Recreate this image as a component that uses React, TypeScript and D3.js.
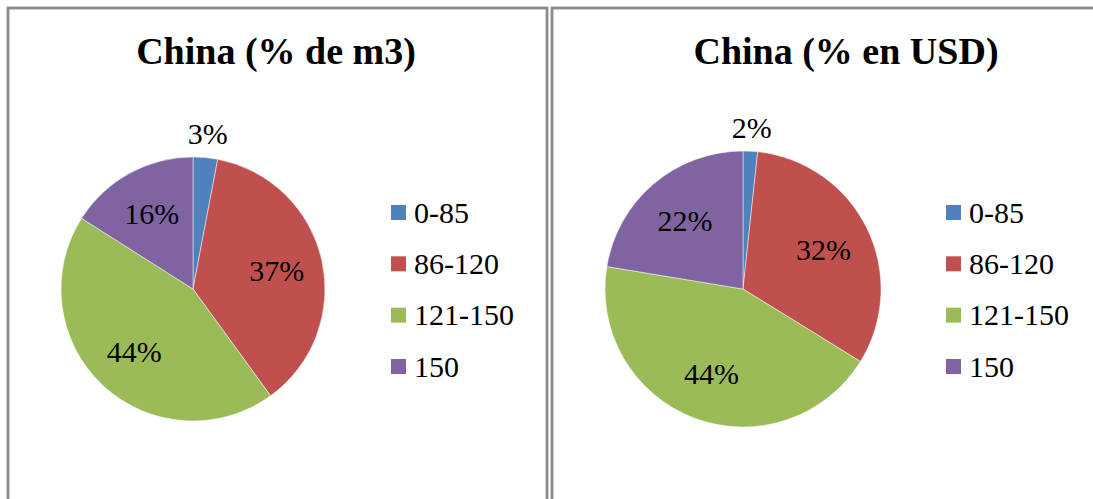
import React from "react";
import * as d3 from "d3";

const categories = ["0-85", "86-120", "121-150", "150"];
const colors = ["#4F81BD", "#C0504D", "#9BBB59", "#8064A2"];
const m3Values = [3.0, 37.0, 44.0, 16.0];
const usdValues = [1.7, 32.1, 43.8, 22.4];
const titles = ["China (% de m3)", "China (% en USD)"];

const W = 1093;
const H = 499;
const FONT = "Liberation Serif";

type PanelProps = {
  x0: number;
  x1: number;
  title: string;
  values: number[];
  cx: number;
  cy: number;
  r: number;
  titleX: number;
  legendX: number;
};

function Panel({ x0, x1, title, values, cx, cy, r, titleX, legendX }: PanelProps) {
  const pie = d3.pie<number>().sort(null).value((d) => d);
  const arcs = pie(values);
  const arc = d3.arc<d3.PieArcDatum<number>>().innerRadius(0).outerRadius(r);
  const labelArc = d3.arc<d3.PieArcDatum<number>>().innerRadius(r * 0.65).outerRadius(r * 0.65);
  const total = d3.sum(values);
  const legendY = d3.scalePoint<string>().domain(categories).range([212, 366]);
  return (
    <g>
      <rect x={x0} y={8} width={x1 - x0} height={H + 20} fill="white" stroke="#9a9a9a" strokeWidth={3} />
      <rect x={x0} y={8} width={x1 - x0} height={H + 20} fill="none" stroke="#7f7f7f" strokeWidth={1} />
      <text x={titleX} y={64} textAnchor="middle" fontFamily={FONT} fontWeight="bold" fontSize={38} fill="#000">
        {title}
      </text>
      <g transform={`translate(${cx},${cy})`}>
        {arcs.map((a, i) => (
          <path key={i} d={arc(a) || ""} fill={colors[i]} stroke="#ffffff" strokeOpacity={0.6} strokeWidth={0.8} />
        ))}
        {arcs.map((a, i) => {
          const pct = Math.round((a.data / total) * 100);
          let [lx, ly] = labelArc.centroid(a);
          if (pct < 5) {
            const mid = (a.startAngle + a.endAngle) / 2;
            const rr = r + 24;
            lx = Math.sin(mid) * rr;
            ly = -Math.cos(mid) * rr;
          }
          return (
            <text key={i} x={lx} y={ly} dy="0.35em" textAnchor="middle" fontFamily={FONT} fontSize={30} fill="#000">
              {pct}%
            </text>
          );
        })}
      </g>
      {categories.map((c, i) => (
        <g key={c} transform={`translate(${legendX},${legendY(c)})`}>
          <rect x={0} y={-7} width={15} height={15} fill={colors[i]} />
          <text x={23} y={0} dy="0.35em" fontFamily={FONT} fontSize={30} fill="#000">
            {c}
          </text>
        </g>
      ))}
    </g>
  );
}

export default function App() {
  return (
    <svg width={W} height={H} style={{ position: "absolute", left: 0, top: 0, background: "white" }}>
      <rect x={0} y={0} width={W} height={H} fill="white" />
      <Panel x0={8} x1={547} title={titles[0]} values={m3Values} cx={193} cy={289} r={132} titleX={276} legendX={391} />
      <Panel x0={552} x1={W + 20} title={titles[1]} values={usdValues} cx={743} cy={289} r={138} titleX={846} legendX={946} />
    </svg>
  );
}
